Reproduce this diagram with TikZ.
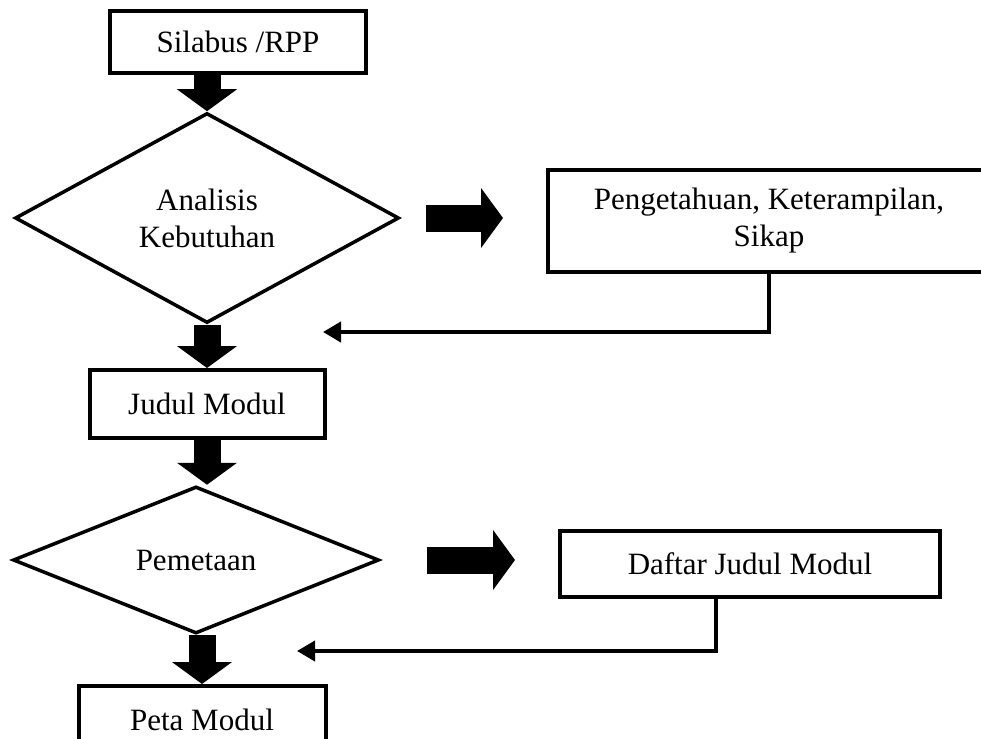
\documentclass[tikz,border=0pt]{standalone}
\usepackage{fontspec}
\setmainfont{Liberation Serif}
\usetikzlibrary{arrows.meta,positioning,shapes.geometric}

\begin{document}
\begin{tikzpicture}[x=1pt,y=-1pt,on grid,font=\fontsize{31}{37}\selectfont,
    box/.style={draw,line width=4pt,inner sep=0pt,align=center},
    decision/.style={draw,diamond,line width=3.5pt,inner sep=0pt,align=center},
    blockarrow/.style={line width=27pt,-{Triangle[length=22pt,width=59pt]}},
    feedback/.style={line width=4pt,-{Triangle[length=18pt,width=20pt]}}]
    \useasboundingbox (0,0) rectangle (981,738);

    \node[box,minimum width=256pt,minimum height=62pt] (silabus) at (238,42) {Silabus /RPP};
    \node[decision,aspect=1.8,minimum width=384pt,minimum height=210pt] (analisis) [below left=176pt and 31pt of silabus] {Analisis\\Kebutuhan};
    \node[box,minimum width=442pt,minimum height=102pt] (pengetahuan) [below right=3pt and 562pt of analisis] {Pengetahuan, Keterampilan,\\Sikap};
    \node[box,minimum width=235pt,minimum height=68pt] (judul) [below=186pt of analisis] {Judul Modul};
    \node[decision,aspect=2.5,minimum width=366pt,minimum height=147pt] (pemetaan) [below left=156pt and 11pt of judul] {Pemetaan};
    \node[box,minimum width=380pt,minimum height=66pt] (daftar) [below right=4pt and 554pt of pemetaan] {Daftar Judul Modul};
    \node[box,minimum width=247pt,minimum height=68pt] (peta) [below right=160pt and 6pt of pemetaan] {Peta Modul};

    \coordinate (fbA) at (323,332);
    \coordinate (fbB) at (297,651);

    \draw[blockarrow] (silabus.south -| analisis.north) -- (analisis.north);
    \draw[blockarrow] (analisis.south) -- (judul.north);
    \draw[blockarrow] (judul.south) -- (judul.south |- pemetaan.north);
    \draw[blockarrow] (peta.north |- pemetaan.south) -- (peta.north);
    \draw[blockarrow,shorten <=25pt,shorten >=43pt] (analisis.east) -- (analisis.east -| pengetahuan.west);
    \draw[blockarrow,shorten <=46pt,shorten >=43pt] (pemetaan.east) -- (pemetaan.east -| daftar.west);

    \draw[feedback] (pengetahuan.south) |- (fbA);
    \draw[feedback] ([xshift=-34pt]daftar.south) |- (fbB);
\end{tikzpicture}
\end{document}
